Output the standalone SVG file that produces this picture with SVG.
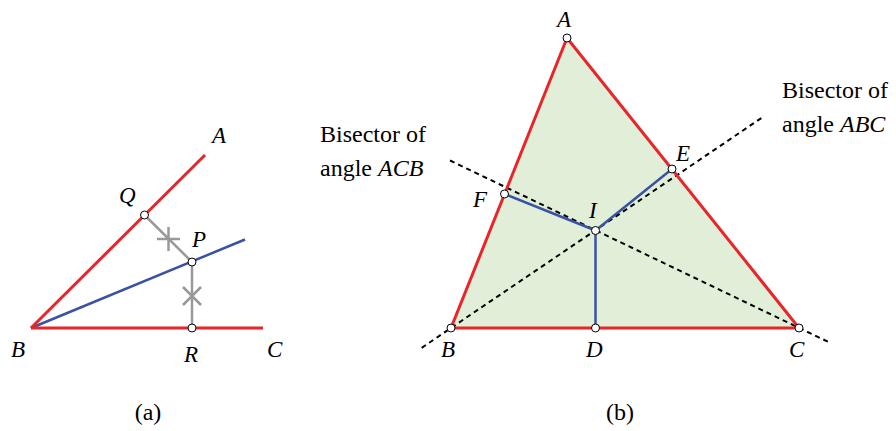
<svg xmlns="http://www.w3.org/2000/svg" width="896" height="431" viewBox="0 0 896 431">
<style>
.red{stroke:#e8262a;stroke-width:3;fill:none;stroke-linecap:butt}
.blue{stroke:#3a52a3;stroke-width:2.5;fill:none}
.gray{stroke:#999;stroke-width:2.5;fill:none}
.dash{stroke:#000;stroke-width:2;stroke-dasharray:5 4;fill:none}
.pt{fill:#fff;stroke:#000;stroke-width:1}
text{font-family:'Liberation Serif','Times New Roman','DejaVu Serif',serif;fill:#000}
.lbl{font-style:italic;font-size:23px}
.txt{font-size:24px}
</style>
<rect width="896" height="431" fill="#fff"/>
<g id="connectors">
<line class="blue" x1="31" y1="328" x2="245" y2="239.5"/>
<line class="red" x1="31" y1="328" x2="205" y2="155"/>
<line class="red" x1="31" y1="328" x2="263" y2="328"/>
<line class="gray" x1="144.5" y1="215" x2="192" y2="262"/>
<line class="gray" x1="192" y1="262" x2="192" y2="328"/>
<line class="gray" x1="157" y1="239" x2="180" y2="239"/>
<line class="gray" x1="168.5" y1="227" x2="168.5" y2="251"/>
<line class="gray" x1="183" y1="287" x2="201" y2="305"/>
<line class="gray" x1="201" y1="287" x2="183" y2="305"/>
<polygon points="567,38 451,328 799,328" fill="#e1efd8" stroke="none"/>
<line class="dash" x1="421.7" y1="347.8" x2="763.5" y2="116.6"/>
<line class="dash" x1="450" y1="160.5" x2="828.5" y2="342"/>
<polygon points="567,38 451,328 799,328" fill="none" stroke="#e8262a" stroke-width="3"/>
<line class="blue" x1="595.5" y1="230.5" x2="504.5" y2="194"/>
<line class="blue" x1="595.5" y1="230.5" x2="672" y2="169"/>
<line class="blue" x1="595.5" y1="230.5" x2="595.5" y2="328"/>
</g>
<g id="node-B-a"><text class="lbl" x="11" y="357">B</text></g>
<g id="node-A-a"><text class="lbl" x="212" y="143">A</text></g>
<g id="node-C-a"><text class="lbl" x="267" y="357">C</text></g>
<g id="node-Q"><circle class="pt" cx="144.5" cy="215" r="4"/><text class="lbl" x="119" y="203">Q</text></g>
<g id="node-P"><circle class="pt" cx="192" cy="262" r="4"/><text class="lbl" x="192" y="247">P</text></g>
<g id="node-R"><circle class="pt" cx="192" cy="328" r="4"/><text class="lbl" x="184" y="362">R</text></g>
<g id="label-a"><text class="txt" x="148" y="420" text-anchor="middle">(a)</text></g>
<g id="node-A"><circle class="pt" cx="567" cy="38" r="4"/><text class="lbl" x="557" y="27">A</text></g>
<g id="node-B"><circle class="pt" cx="451" cy="328" r="4"/><text class="lbl" x="441" y="357">B</text></g>
<g id="node-C"><circle class="pt" cx="799" cy="328" r="4"/><text class="lbl" x="789" y="357">C</text></g>
<g id="node-D"><circle class="pt" cx="595.5" cy="328" r="4"/><text class="lbl" x="586" y="357">D</text></g>
<g id="node-E"><circle class="pt" cx="672" cy="169" r="4"/><text class="lbl" x="676" y="161">E</text></g>
<g id="node-F"><circle class="pt" cx="504.5" cy="194" r="4"/><text class="lbl" x="473" y="207">F</text></g>
<g id="node-I"><circle class="pt" cx="595.5" cy="230.5" r="4"/><text class="lbl" x="589" y="218">I</text></g>
<g id="label-acb"><text class="txt" x="320" y="142">Bisector of</text><text class="txt" x="320" y="176">angle <tspan font-style="italic">ACB</tspan></text></g>
<g id="label-abc"><text class="txt" x="782" y="98">Bisector of</text><text class="txt" x="782" y="132">angle <tspan font-style="italic">ABC</tspan></text></g>
<g id="label-b"><text class="txt" x="620" y="420" text-anchor="middle">(b)</text></g>
</svg>
